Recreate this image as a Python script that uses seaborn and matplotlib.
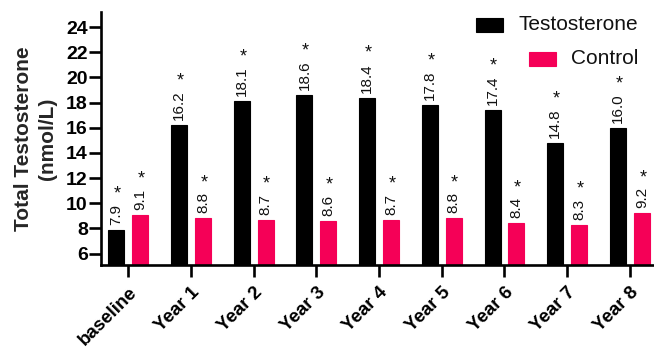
import matplotlib
matplotlib.use("Agg")
import matplotlib.pyplot as plt
from matplotlib.patches import Rectangle
import pandas as pd
import seaborn as sns

# Study time points and mean total testosterone (nmol/L) per group
categories = ["baseline", "Year 1", "Year 2", "Year 3", "Year 4",
              "Year 5", "Year 6", "Year 7", "Year 8"]
testosterone = [7.9, 16.2, 18.1, 18.6, 18.4, 17.8, 17.4, 14.8, 16.0]
control = [9.1, 8.8, 8.7, 8.6, 8.7, 8.8, 8.4, 8.3, 9.2]
groups = ["Testosterone", "Control"]
colors = {"Testosterone": "#000000", "Control": "#F50057"}
y_ticks = [6, 8, 10, 12, 14, 16, 18, 20, 22, 24]

df = pd.DataFrame({
    "time": categories * 2,
    "group": [groups[0]] * len(categories) + [groups[1]] * len(categories),
    "value": testosterone + control,
})

sns.set_style("ticks")
plt.rcParams["font.family"] = ["Liberation Sans", "DejaVu Sans"]

W, H = 654, 348
fig = plt.figure(figsize=(W / 100, H / 100), dpi=100)
ax = fig.add_axes([101 / W, 1 - 265 / H, 553 / W, 253 / H])

sns.barplot(data=df, x="time", y="value", hue="group", order=categories,
            hue_order=groups, palette=colors, width=0.76, gap=0.33,
            saturation=1, legend=False, ax=ax, linewidth=0.8,
            edgecolor=None)
for cont, g in zip(ax.containers, groups):
    for bar in cont:
        bar.set_edgecolor(colors[g])

ax.set_ylim(5.1, 25.2)
ax.set_xlim(-0.435, 8.385)
ax.set_yticks(y_ticks)
ax.set_yticklabels([str(t) for t in y_ticks], fontsize=14, fontweight="bold")
ax.set_xticks(range(len(categories)))
ax.set_xticklabels(categories, fontsize=13.5, fontweight="bold", rotation=45,
                   ha="right", rotation_mode="anchor")
ax.set_xlabel("")
ax.set_ylabel("Total Testosterone\n(nmol/L)", fontsize=15, fontweight="bold",
              linespacing=1.3)
ax.yaxis.set_label_coords(-0.08, 0.5)

for side in ["top", "right"]:
    ax.spines[side].set_visible(False)
for side in ["left", "bottom"]:
    ax.spines[side].set_linewidth(1.9)
    ax.spines[side].set_color("black")
ax.tick_params(axis="both", width=1.9, length=8.5, color="black", labelcolor="black")
ax.tick_params(axis="y", pad=1)
ax.tick_params(axis="x", pad=5)

# Value labels (rotated) with a significance star above each
value_texts = []
for cont, vals in zip(ax.containers, [testosterone, control]):
    for bar, v in zip(cont, vals):
        cx = bar.get_x() + bar.get_width() / 2
        t = ax.annotate(f"{v:.1f}", xy=(cx, v), xytext=(0, 5),
                        textcoords="offset pixels", rotation=90,
                        ha="center", va="bottom", fontsize=11, color="#111111")
        value_texts.append((t, cx, v))

fig.canvas.draw()
renderer = fig.canvas.get_renderer()
for t, cx, v in value_texts:
    bb = t.get_window_extent(renderer)
    base_y = ax.transData.transform((cx, v))[1]
    ax.annotate("*", xy=(cx, v), xytext=(1, bb.y1 - base_y + 1),
                textcoords="offset pixels", ha="center", va="bottom",
                fontsize=13, color="#111111")

# Legend entries: right-aligned text with a colour swatch before each
for label, ycen in [("Testosterone", 25), ("Control", 59)]:
    txt = fig.text(638 / W, 1 - ycen / H, label, ha="right", va="center",
                   fontsize=15, color="#111111")
    fig.canvas.draw()
    tb = txt.get_window_extent(renderer)
    x1 = tb.x0 - 15
    rect = Rectangle(((x1 - 27) / W, 1 - (ycen + 7) / H), 27 / W, 14 / H,
                     transform=fig.transFigure, facecolor=colors[label],
                     edgecolor=colors[label], linewidth=0.8)
    fig.patches.append(rect)

fig.savefig("out.png", dpi=100)
